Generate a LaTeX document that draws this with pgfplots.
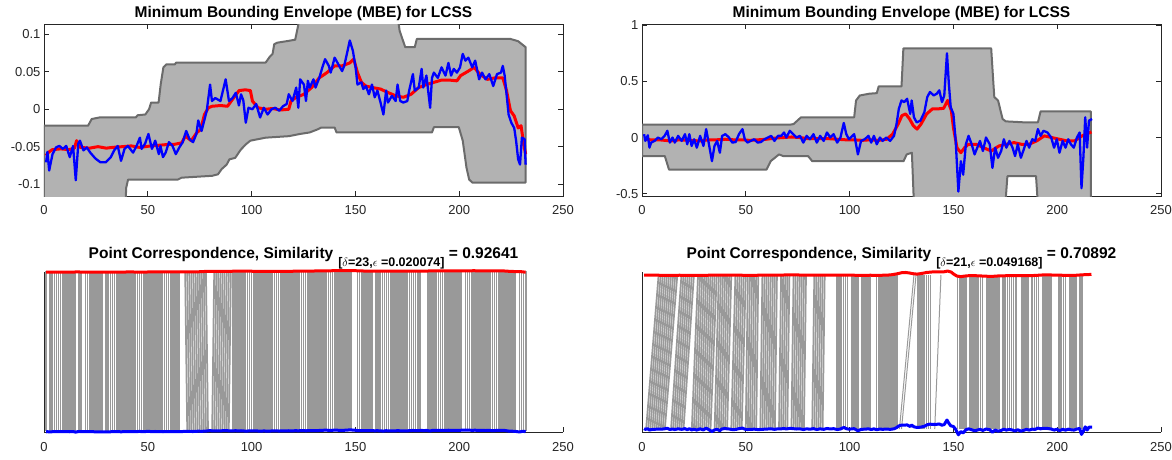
\documentclass[border=0pt]{standalone}
\usepackage{fontspec}
\setmainfont{Liberation Sans}
\usepackage{pgfplots}
\usepackage{pgfplotstable}
\pgfplotsset{compat=1.18}
\definecolor{axgray}{rgb}{0.15,0.15,0.15}
\definecolor{envfill}{rgb}{0.70,0.70,0.70}
\definecolor{envedge}{rgb}{0.42,0.42,0.42}
\definecolor{lnk}{rgb}{0.60,0.60,0.60}

\pgfplotstableread{
x y
1 -0.062
2 -0.058
4 -0.054
8 -0.053
12 -0.054
14.7 -0.052
15.7 -0.042
17.5 -0.051
22 -0.052
26 -0.050
30 -0.052
33 -0.051
38 -0.050
42 -0.049
46 -0.051
51.6 -0.049
56 -0.048
60 -0.047
62.6 -0.047
66.3 -0.045
68.1 -0.036
70.9 -0.042
73.7 -0.031
75.5 -0.027
77.3 -0.007
79.2 0.002
81 0.004
85 0.005
88.4 0.004
90.2 0.011
92.1 0.018
94 0.025
97 0.026
99.4 0.025
100.4 0.011
103.1 0.002
106.8 0.000
110 0.001
114 -0.001
117.9 0.000
119 0.011
121.5 0.016
125.2 0.020
128.9 0.029
132.6 0.042
136.3 0.049
140 0.058
143.6 0.058
147.3 0.062
149.2 0.067
151 0.049
152.9 0.036
155 0.031
158.4 0.029
162.1 0.027
166 0.022
169.4 0.018
173.1 0.016
176.8 0.020
180.5 0.029
184.2 0.033
187.8 0.036
191.5 0.039
195.2 0.039
198.9 0.038
200.7 0.045
204.4 0.051
207.2 0.056
209.9 0.047
213.6 0.040
217.3 0.042
221 0.042
222.8 0.025
224.7 -0.002
226.5 -0.009
228.4 -0.025
229.8 -0.022
231.1 -0.047
232 -0.060
}\LR

\pgfplotstableread{
x y
1 -0.071
1.65 -0.057
2.5 -0.082
4.1 -0.060
5.8 -0.051
7.4 -0.049
9.1 -0.053
10.7 -0.049
12.4 -0.064
14 -0.049
15.3 -0.095
16.5 -0.046
17.3 -0.042
19 -0.055
20.6 -0.051
22.3 -0.058
24.8 -0.066
27.2 -0.071
29.7 -0.071
32.2 -0.064
33.8 -0.055
35.5 -0.049
37.1 -0.069
38.8 -0.053
40.4 -0.049
42.9 -0.058
44.6 -0.049
46.2 -0.038
47 -0.053
48.7 -0.046
50.3 -0.033
52 -0.053
53.6 -0.042
55.3 -0.060
56.1 -0.049
57.3 -0.064
58.6 -0.058
60.2 -0.044
61.9 -0.049
63.5 -0.060
65.2 -0.051
66.8 -0.044
68.5 -0.029
70.1 -0.040
71.8 -0.044
73.4 -0.033
74.3 -0.015
75.9 -0.029
78.4 -0.002
80 0.033
80.9 0.011
82.5 0.015
85 0.011
87.5 0.040
89.1 0.011
90.8 0.015
92.4 0.022
93.9 0.005
94.9 0.020
96 0.012
97.2 -0.018
98.5 0.002
100.4 0.000
102.2 0.007
104.1 -0.011
105.9 0.002
107.7 -0.007
109.6 0.000
111.4 0.002
113.3 -0.002
115.1 0.004
116.9 0.007
117.9 0.020
119.7 0.011
121.5 0.029
122.5 0.002
123.4 0.040
125.2 0.033
126.2 0.011
127.1 0.038
128 0.029
129.8 0.040
130.8 0.029
132.6 0.042
134.1 0.056
135.4 0.067
137.2 0.058
138.1 0.049
140 0.069
141.8 0.060
143.6 0.051
144.6 0.058
145.9 0.074
147.3 0.092
148.8 0.078
150.1 0.056
151 0.033
152.9 0.036
153.8 0.027
155.1 0.031
156.5 0.020
158 0.033
159.3 0.016
160.6 0.025
162.1 0.009
163.5 -0.007
164.8 0.025
165.7 0.009
167.6 0.018
169.4 0.011
170.3 0.033
171.6 0.011
173.1 0.009
175 0.011
175.9 0.025
177.7 0.047
178.6 0.025
180.5 0.029
181.9 0.054
182.7 0.029
184.2 0.045
186 0.002
186.9 0.042
187.8 0.049
189.7 0.042
191.5 0.056
193.4 0.045
194.8 0.062
196.1 0.045
197.4 0.054
198.9 0.049
200.4 0.056
201.7 0.074
203 0.065
204.4 0.069
206.3 0.056
207.7 0.065
209.6 0.040
211 0.049
212.7 0.040
214.5 0.047
216.4 0.031
218.2 0.047
220.1 0.049
221 0.058
221.9 0.045
223.8 -0.007
225.1 -0.018
226.5 -0.025
227.4 -0.042
228.4 -0.067
229.3 -0.074
230.2 -0.038
231.5 -0.040
232 -0.074
}\LB

\pgfplotstableread{
x y
1 -0.010
4 -0.020
8 -0.020
11 -0.025
14 -0.030
18 -0.020
22 -0.025
28 -0.030
32 -0.020
36 -0.020
40 -0.015
44 -0.020
48 -0.020
52 -0.025
56 -0.020
60 -0.015
64 -0.005
68 0.000
72 0.005
76 0.000
80 -0.010
85 -0.010
90 -0.010
94 -0.015
98 -0.020
102 -0.020
106 -0.025
110 -0.020
114 -0.025
118 -0.015
118.8 0.000
120.7 0.030
123.4 0.120
125.2 0.195
127 0.210
128.9 0.165
130.7 0.105
132.5 0.075
134.4 0.120
137.1 0.210
139.9 0.255
142.6 0.255
145.3 0.260
147.2 0.330
149 0.240
150 0.090
151.7 -0.090
153.6 -0.135
155.4 -0.090
157.2 -0.060
160.9 -0.060
164.5 -0.090
168.2 -0.120
171.9 -0.075
175.5 -0.060
179.2 -0.045
182.8 -0.060
186.4 -0.060
190.1 -0.030
193.8 0.015
197.4 0.000
201 -0.015
204.8 -0.030
208.4 -0.030
212 0.015
213.9 0.030
216.5 0.050
}\RR

\pgfplotstableread{
x y
1 0.030
1.6 -0.030
2.8 0.020
3.6 -0.090
4.4 -0.045
6 -0.030
7.7 0.000
9.3 -0.015
10.9 0.015
12.2 0.060
13.4 -0.045
14.7 0.000
15.8 -0.045
17.4 0.015
19.1 -0.030
20.7 0.030
21.8 -0.060
22.8 0.030
23.9 -0.075
25.1 -0.015
26.4 -0.090
28 0.015
29.6 -0.075
30.9 0.075
32.1 -0.045
33.7 -0.210
34.9 -0.075
36.2 -0.030
37.5 -0.135
38.6 0.015
40.2 0.030
41.9 0.000
43.5 -0.045
45.1 -0.040
46.7 0.030
48.4 0.075
49.5 -0.015
50.8 -0.045
52.4 -0.030
54.1 -0.015
55.7 -0.045
57.3 -0.040
59 -0.015
60.6 0.000
62.2 0.015
63.8 -0.030
65.5 0.015
67.1 0.015
68.4 0.045
69.5 0.000
71.2 0.060
72.8 0.030
74.4 0.000
76.1 0.015
77.7 -0.045
79.3 0.015
80.9 -0.015
82.6 0.030
84.2 -0.045
85.8 0.015
87.5 -0.030
89.1 0.045
90.7 0.000
92.3 0.030
94 -0.045
95.6 0.000
97.2 0.130
98.4 0.030
99.7 -0.015
102.2 0.030
104 -0.150
105.5 -0.030
107.3 -0.015
109.1 0.015
110.4 -0.045
111.7 0.015
113.1 -0.060
114.6 0.000
115.9 -0.030
117.7 0.000
119.5 -0.030
121.4 0.015
122.6 0.120
123.7 0.255
125 0.330
126.3 0.315
127.7 0.345
129.2 0.210
129.9 0.330
131 0.180
132.3 0.135
134.1 0.150
136 0.225
137.4 0.360
138.7 0.405
140.5 0.375
142 0.390
143.2 0.420
144.5 0.315
145.6 0.375
146.9 0.750
147.8 0.480
148.7 0.270
150 0.210
151.1 -0.030
152.4 -0.480
153.6 -0.210
154.7 -0.330
156 -0.060
157.3 0.015
158.8 -0.060
160.2 -0.150
161.5 -0.090
162.8 -0.030
164.2 -0.120
165.7 0.000
167.5 -0.060
168.8 -0.270
170.1 -0.090
171.5 -0.180
173 -0.120
174.3 -0.015
175.5 -0.090
177 -0.030
178.5 -0.090
179.7 -0.165
181 -0.060
182.5 -0.180
183.9 -0.105
185.2 -0.030
186.5 -0.090
188 -0.015
189.4 -0.030
190.7 0.075
192 0.015
193.4 0.060
195.3 0.045
197.1 0.000
198.5 -0.090
199.8 -0.015
201.1 -0.135
202.6 -0.030
204 -0.090
205.3 -0.015
206.6 -0.060
208 -0.090
209.5 0.000
210.8 0.045
211.7 -0.450
212.6 -0.180
213.5 0.180
214.4 -0.090
215.3 0.150
216.8 0.165
}\RB

\pgfplotsset{
  mbox/.style={
    anchor=south west, scale only axis, width=519pt, height=172pt,
    xmin=0, xmax=250, xtick={0,50,100,150,200,250},
    xticklabels={0,50,100,150,200,250},
    tick align=inside, major tick length=5pt,
    axis line style={axgray, line width=0.8pt},
    every tick/.style={axgray, line width=0.8pt},
    tick label style={font=\fontsize{13}{15}\selectfont, text=axgray},
    xticklabel style={yshift=-5.5pt},
    title style={font=\bfseries\fontsize{15.5}{17}\selectfont, at={(0.5,1)}, anchor=base, yshift=0.5pt},
  },
  mcorr/.style={
    anchor=south west, scale only axis, width=519pt, height=160pt,
    xmin=0, xmax=250, xtick={0,50,100,150,200,250},
    xticklabels={0,50,100,150,200,250},
    axis lines*=left, ytick=\empty, clip=false,
    tick align=inside, major tick length=5pt,
    axis line style={axgray, line width=0.8pt},
    every tick/.style={axgray, line width=0.8pt},
    tick label style={font=\fontsize{13}{15}\selectfont, text=axgray},
    xticklabel style={yshift=-7pt},
    title style={font=\bfseries\fontsize{15.5}{17}\selectfont, at={(0.5,1)}, anchor=base, yshift=7.5pt},
  },
  lnkstyle/.style={lnk, line width=1.75pt,
    quiver/every arrow/.style={lnk, line width=1.75pt}},
}

\begin{document}
\begin{tikzpicture}
\useasboundingbox (0,0) rectangle (1172pt,459pt);

% ---------- top left ----------
\begin{axis}[mbox, at={(44pt,263pt)},
  ymin=-0.116, ymax=0.114,
  ytick={-0.1,-0.05,0,0.05,0.1}, yticklabels={-0.1,-0.05,0,0.05,0.1},
  title={Minimum Bounding Envelope (MBE) for LCSS}]
\addplot[fill=envfill, draw=envedge, line width=2pt, line join=round] coordinates {
(0,-0.022) (21.2,-0.022) (23,-0.013) (26.7,-0.011) (44.2,-0.011) (45.1,-0.008) (48.8,-0.007) (50.6,0) (51.6,0.009) (55.2,0.009) (56.2,0.033) (57.5,0.056) (58.9,0.060) (63,0.060) (63.7,0.0625) (106.8,0.0625) (108.7,0.070) (110.1,0.074) (110.9,0.087) (112.3,0.089) (117.9,0.0915) (121,0.093) (123.4,0.125) (170.3,0.125) (171.3,0.105) (174,0.083) (178.6,0.083) (179.6,0.094) (224.7,0.094) (228.4,0.091) (231.1,0.085) (232,0.083)
(232,-0.098) (206.3,-0.098) (204.8,-0.094) (203.5,-0.078) (201.7,-0.042) (199.8,-0.024) (187.8,-0.024) (186.9,-0.031) (140.9,-0.031) (140,-0.0245) (133.5,-0.0245) (131.7,-0.027) (128,-0.031) (123.4,-0.033) (117.9,-0.036) (106.8,-0.038) (99.4,-0.042) (97.2,-0.047) (94.8,-0.054) (92.1,-0.065) (89.3,-0.067) (88,-0.074) (85.6,-0.080) (83.8,-0.087) (81,-0.089) (66.3,-0.0915) (64.5,-0.094) (40.5,-0.094) (39.6,-0.105) (39.2,-0.13) (0,-0.13) (0,-0.022)};
\addplot[red, line width=3pt, line join=round] table[x=x,y=y] {\LR};
\addplot[blue, line width=2.3pt, line join=round] table[x=x,y=y] {\LB};
\end{axis}

% ---------- top right ----------
\begin{axis}[mbox, at={(642pt,263pt)},
  ymin=-0.52, ymax=1.01,
  ytick={-0.5,0,0.5,1}, yticklabels={-0.5,0,0.5,1},
  title={Minimum Bounding Envelope (MBE) for LCSS}]
\addplot[fill=envfill, draw=envedge, line width=2pt, line join=round] coordinates {
(0,0.114) (71.2,0.114) (73,0.12) (76.6,0.18) (102.2,0.18) (103.1,0.33) (104.9,0.374) (109.5,0.39) (113.1,0.395) (114,0.455) (125,0.455) (125.9,0.793) (168.2,0.793) (169.2,0.5) (169.7,0.36) (171.5,0.33) (173.7,0.165) (175.2,0.144) (184.3,0.135) (190.7,0.135) (192,0.233) (216.2,0.233)
(216.2,-0.6) (190.7,-0.6) (189.8,-0.344) (176,-0.344) (175,-0.6) (131,-0.6) (130,-0.135) (127.5,-0.15) (126,-0.21) (82,-0.21) (80,-0.165) (68,-0.165) (66,-0.15) (64,-0.18) (62,-0.21) (60,-0.285) (13,-0.285) (11,-0.165) (0,-0.165) (0,0.114)};
\addplot[red, line width=3pt, line join=round] table[x=x,y=y] {\RR};
\addplot[blue, line width=2.3pt, line join=round] table[x=x,y=y] {\RB};
\end{axis}

% ---------- bottom left ----------
\begin{axis}[mcorr, at={(44pt,27pt)},
  ymin=-0.085, ymax=13.25,
  title={Point Correspondence, Similarity\hspace{5pt}\raisebox{-8pt}{\fontsize{12.5}{14}\selectfont[$\delta$=23,$\epsilon$ =0.020074]} = 0.92641}]
\addplot[lnkstyle, quiver={u=\thisrow{u}, v=-13.3}] table[x=i, y expr=13.3, row sep=\\] {
i u\\ 1 0\\ 3 0\\ 4 0\\ 5 0\\ 6 0\\ 7 0\\ 8 0\\ 9 0\\ 10 0\\ 11 0\\ 12 0\\ 13 0\\ 14 0\\ 15 0\\ 17 0\\ 18 0\\
20 0\\ 21 0\\ 22 0\\ 23 0\\ 24 0\\ 25 0\\ 26 0\\ 27 0\\ 28 0\\
30 0\\ 31 0\\ 32 0\\ 33 0\\ 34 0\\ 35 0\\ 36 0\\ 37 0\\ 38 0\\ 39 0\\ 40 0\\ 41 0\\ 42 0\\ 43 0\\ 44 0\\ 45 0\\ 46 0\\ 47 0\\ 48 0\\ 49 0\\
50 0\\ 51 0\\ 52 0\\ 53 0\\ 54 0\\ 55 0\\ 56 0\\ 57 0\\ 58 0\\ 59 0\\ 60 0\\ 61 0\\ 62 0\\ 63 0\\ 64 0\\ 65 0\\
68 1\\ 69 1\\ 70 1\\ 71 1\\ 72 1\\ 73 1\\ 74 1\\ 75 1\\ 76 1\\ 77 1\\ 78 1\\
82 -1\\ 83 -1\\ 84 -1\\ 85 -1\\ 86 -1\\ 87 -1\\ 88 -1\\ 89 -1\\ 90 -1\\
91 0\\ 92 0\\ 93 0\\ 94 0\\ 95 0\\ 96 0\\ 97 0\\ 98 0\\ 99 0\\ 100 0\\ 101 0\\ 102 0\\ 103 0\\ 104 0\\ 105 0\\ 106 0\\ 107 0\\ 108 0\\ 109 0\\ 110 0\\
111 0\\ 112 0\\ 113 0\\ 114 0\\ 115 0\\ 116 0\\ 117 0\\ 118 0\\ 119 0\\ 120 0\\ 121 0\\ 122 0\\ 123 0\\ 124 0\\ 125 0\\ 126 0\\ 127 0\\ 128 0\\ 129 0\\ 130 0\\
131 0\\ 132 0\\ 133 0\\ 134 0\\ 135 0\\ 136 0\\ 137 0\\ 138 0\\ 139 0\\ 140 0\\ 141 0\\ 142 0\\ 143 0\\ 144 0\\ 145 0\\ 146 0\\ 147 0\\ 148 0\\
151 0\\ 152 0\\ 153 0\\ 154 0\\ 155 0\\ 156 0\\ 157 0\\ 158 0\\
160 0\\ 161 0\\ 162 0\\ 163 0\\ 164 0\\ 165 0\\ 166 0\\ 167 0\\ 168 0\\ 169 0\\ 170 0\\ 171 0\\ 172 0\\ 173 0\\ 174 0\\ 175 0\\ 176 0\\ 177 0\\ 178 0\\ 179 0\\ 180 0\\ 181 0\\
185 0\\ 186 0\\ 187 0\\ 188 0\\ 189 0\\ 190 0\\ 191 0\\ 192 0\\ 193 0\\ 194 0\\ 195 0\\ 196 0\\ 197 0\\ 198 0\\ 199 0\\ 200 0\\ 201 0\\
203 0\\ 204 0\\ 205 0\\ 206 0\\ 207 0\\ 208 0\\ 209 0\\ 210 0\\ 211 0\\ 212 0\\ 213 0\\ 214 0\\ 215 0\\ 216 0\\ 217 0\\ 218 0\\ 219 0\\ 220 0\\ 221 0\\ 222 0\\ 223 0\\ 224 0\\ 225 0\\ 226 0\\ 227 0\\
229 0\\ 230 0\\ 231 0\\ 232 0\\
};
\addplot[red, line width=3pt, line join=round] table[x=x, y expr=\thisrow{y}+13.3] {\LR};
\addplot[blue, line width=3pt, line join=round] table[x=x, y=y] {\LB};
\end{axis}

% ---------- bottom right ----------
\begin{axis}[mcorr, at={(642pt,27pt)},
  ymin=-0.25, ymax=13.08,
  title={Point Correspondence, Similarity\hspace{5pt}\raisebox{-8pt}{\fontsize{12.5}{14}\selectfont[$\delta$=21,$\epsilon$ =0.049168]} = 0.70892}]
\addplot[lnkstyle, quiver={u=\thisrow{u}, v=-12.83}] table[x=i, y expr=12.83, row sep=\\] {
i u\\ 8 -6\\ 9 -6\\ 10 -6\\ 11 -6\\ 12 -6\\ 13 -6\\ 14 -6\\ 15 -6\\ 16 -6\\ 17 -6\\
19 -5\\ 20 -5\\ 21 -5\\ 22 -5\\ 23 -5\\ 24 -5\\ 25 -5\\
27 -3\\ 28 -3\\ 29 -3\\ 30 -3\\ 31 -3\\ 32 -3\\ 33 -3\\ 34 -3\\ 35 -3\\ 36 -3\\
37 -2\\ 38 -2\\ 39 -2\\ 40 -2\\ 41 -2\\ 42 -2\\ 43 -2\\ 45 -2\\ 46 -2\\ 47 -2\\ 48 -2\\ 49 -2\\ 50 -2\\
51 -1\\ 52 -1\\ 53 -1\\ 54 -1\\ 55 -1\\ 56 -1\\ 58 -1\\ 59 -1\\ 60 -1\\ 61 -1\\ 62 -1\\ 63 -1\\ 64 -1\\ 65 -1\\
67 -1\\ 68 -1\\ 69 -1\\ 70 -1\\ 71 -1\\ 73 -1\\ 74 -1\\ 75 -1\\ 76 -1\\ 77 -1\\ 78 -1\\ 79 -1\\
83 -1\\ 84 -1\\ 85 -1\\ 86 -1\\ 87 -1\\ 88 -1\\
94 0\\ 95 0\\ 96 0\\ 97 0\\ 98 0\\ 99 0\\ 101 0\\ 102 0\\ 103 0\\ 104 0\\ 106 0\\ 107 0\\ 108 0\\ 109 0\\ 110 0\\
113 0\\ 114 0\\ 115 0\\ 116 0\\ 117 0\\ 118 0\\ 119 0\\ 120 0\\ 121 0\\ 122 0\\ 123 0\\
133 0\\ 134 0\\ 135 0\\ 136 0\\ 137 0\\ 138 0\\ 139 0\\
152 0\\ 153 0\\ 154 0\\ 155 0\\ 156 0\\
158 0\\ 159 0\\ 160 0\\ 161 0\\ 162 0\\ 163 0\\ 164 0\\
166 0\\ 167 0\\ 168 0\\ 169 0\\ 170 0\\ 171 0\\ 172 0\\
174 0\\ 175 0\\ 176 0\\ 177 0\\ 178 0\\ 179 0\\ 180 0\\
183 0\\ 184 0\\ 185 0\\ 186 0\\
188 0\\ 189 0\\ 190 0\\ 191 0\\ 193 0\\ 194 0\\ 195 0\\ 196 0\\ 197 0\\
201 0\\ 202 0\\ 203 0\\ 204 0\\ 206 0\\ 207 0\\ 208 0\\ 209 0\\
211 0\\ 212 0\\
};
\addplot[lnk, line width=1pt, quiver={u=\thisrow{u}, v=-12.83}, quiver/every arrow/.style={lnk, line width=1pt}] table[x=i, y expr=12.83, row sep=\\] {
i u\\ 131 -7\\ 132 -7\\ 144 -3\\
};
\addplot[red, line width=3pt, line join=round] table[x=x, y expr=\thisrow{y}+12.83] {\RR};
\addplot[blue, line width=3pt, line join=round] table[x=x, y=y] {\RB};
\end{axis}
\end{tikzpicture}
\end{document}
